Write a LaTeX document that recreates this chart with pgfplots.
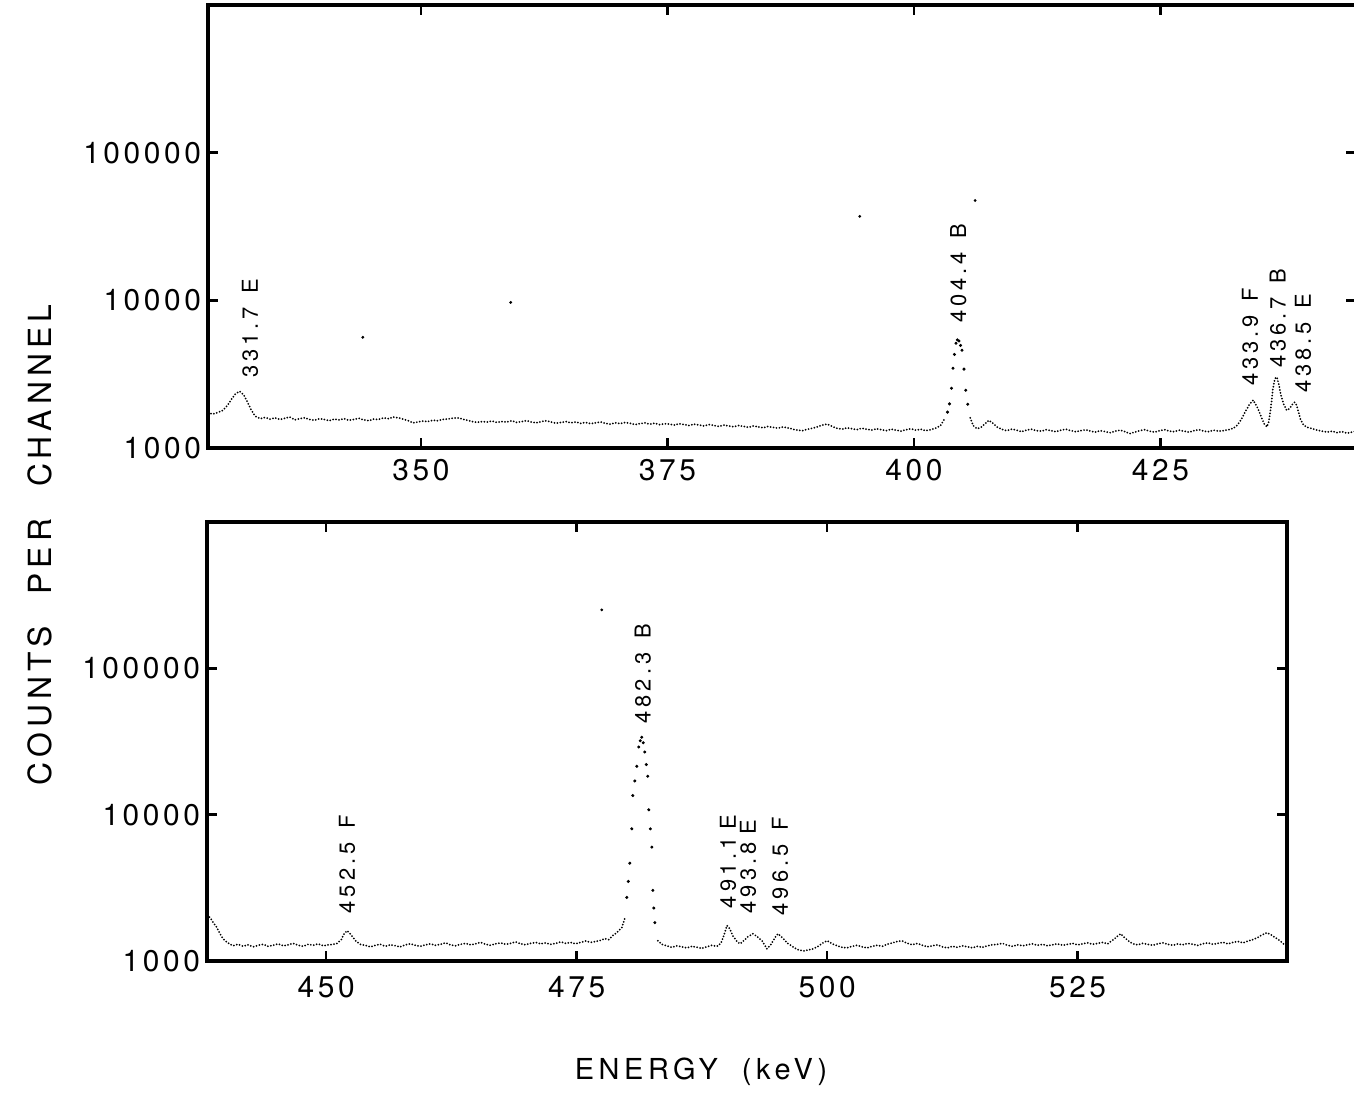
\documentclass[border=0pt]{standalone}
\usepackage{fontspec}
\setmainfont{TeX Gyre Heros}
\newfontfamily\tickfont[LetterSpace=12]{TeX Gyre Heros}
\newfontfamily\labfont[LetterSpace=16]{TeX Gyre Heros}
\newfontfamily\pkfont[LetterSpace=18]{TeX Gyre Heros}
\usepackage{pgfplots}
\pgfplotsset{compat=1.18}
\tikzset{pk/.style={rotate=90, anchor=west, inner sep=0pt, font=\pkfont\fontsize{11}{12}\selectfont}}
\begin{document}
\begin{tikzpicture}
\useasboundingbox (0,0) rectangle (677bp,546.5bp);
% top panel
\begin{axis}[scale only axis, anchor=south west,
  ymode=log, ymin=1000, ymax=1000000,
  ytick={1000,10000,100000}, yticklabels={1000,10000,100000},
  yminorticks=false, xminorticks=false,
  tick align=inside, major tick length=5bp,
  tick style={black, line width=1.2bp},
  axis line style={line width=2bp},
  tick label style={font=\tickfont\fontsize{15}{17}\selectfont},
  clip=false, unbounded coords=jump,
  at={(104bp,322.5bp)}, width=574bp, height=221.5bp,
  xmin=328.4, xmax=444.83, xtick={350,375,400,425}, xticklabels={350,375,400,425},
  xticklabel style={yshift=-2bp}]
\addplot[black, line width=1pt, line cap=round, dash pattern=on 0pt off 1.5pt] coordinates {
(328.4,1720)(328.9,1700)(329.4,1740)(329.9,1800)(330.4,1950)(330.8,2150)(331.2,2330)(331.6,2420)(332.0,2300)(332.4,2050)(332.8,1800)(333.2,1640)(333.7,1580)(334.2,1610)(334.7,1570)(335.2,1600)(335.7,1560)(336.2,1590)(336.7,1620)(337.2,1550)(337.7,1580)(338.2,1600)(338.7,1560)(339.2,1540)(339.7,1580)(340.2,1560)(340.7,1530)(341.2,1570)(341.7,1550)(342.2,1580)(342.7,1540)(343.2,1560)(343.7,1590)(344.2,1550)(344.7,1530)(345.2,1570)(345.7,1560)(346.2,1600)(346.7,1580)(347.2,1620)(347.7,1600)(348.2,1570)(348.7,1530)(349.2,1480)(349.7,1500)
(350.2,1520)(350.7,1510)(351.2,1540)(351.7,1530)(352.2,1560)(352.7,1570)(353.2,1590)(353.7,1600)(354.2,1570)(354.7,1540)(355.2,1510)(355.7,1490)(356.2,1510)(356.7,1500)(357.2,1520)(357.7,1490)(358.2,1510)(358.7,1500)(359.2,1530)(359.7,1490)(360.2,1510)(360.7,1530)(361.2,1500)(361.7,1480)(362.2,1510)(362.7,1530)(363.2,1500)(363.7,1470)(364.2,1490)(364.7,1510)(365.2,1480)(365.7,1500)(366.2,1470)(366.7,1490)(367.2,1460)(367.7,1480)(368.2,1500)(368.7,1470)(369.2,1450)(369.7,1480)(370.2,1460)(370.7,1490)(371.2,1470)(371.7,1440)(372.2,1460)(372.7,1480)(373.2,1450)(373.7,1470)(374.2,1440)(374.7,1460)
(375.2,1450)(375.7,1430)(376.2,1460)(376.7,1440)(377.2,1420)(377.7,1450)(378.2,1430)(378.7,1410)(379.2,1440)(379.7,1420)(380.2,1400)(380.7,1430)(381.2,1410)(381.7,1390)(382.2,1420)(382.7,1400)(383.2,1380)(383.7,1410)(384.2,1390)(384.7,1370)(385.2,1400)(385.7,1380)(386.2,1360)(386.7,1390)(387.2,1370)(387.7,1340)(388.2,1320)(388.7,1310)(389.2,1340)(389.7,1360)(390.2,1390)(390.7,1430)(391.2,1450)(391.7,1400)(392.2,1360)(392.7,1340)(393.2,1370)(393.7,1350)(394.2,1330)(394.7,1360)(395.2,1340)(395.7,1320)(396.2,1350)(396.7,1330)(397.2,1310)(397.7,1340)(398.2,1320)(398.7,1300)(399.2,1330)(399.7,1350)
(400.2,1320)(400.7,1340)(401.2,1310)(401.7,1330)(402.2,1360)(402.7,1420)(403.1,1580)(403.3,nan)(405.7,1600)(406.0,1420)(406.4,1350)(406.8,1380)(407.2,1460)(407.6,1540)(408.0,1470)(408.4,1390)(408.9,1340)(409.4,1310)(409.9,1340)(410.4,1320)(410.9,1290)(411.4,1320)(411.9,1340)(412.4,1310)(412.9,1300)(413.4,1330)(413.9,1310)(414.4,1290)(414.9,1320)(415.4,1340)(415.9,1310)(416.4,1290)(416.9,1310)(417.4,1330)(417.9,1300)(418.4,1280)(418.9,1310)(419.4,1290)(419.9,1270)(420.4,1300)(420.9,1320)(421.4,1290)(421.9,1250)(422.4,1280)(422.9,1310)(423.4,1330)(423.9,1300)(424.4,1280)(424.9,1310)
(425.4,1330)(425.9,1300)(426.4,1290)(426.9,1320)(427.4,1300)(427.9,1280)(428.4,1310)(428.9,1330)(429.4,1300)(429.9,1290)(430.4,1320)(430.9,1300)(431.4,1310)(431.9,1330)(432.4,1360)(432.8,1430)(433.2,1560)(433.6,1760)(434.0,1960)(434.4,2110)(434.8,1900)(435.2,1640)(435.5,1460)(435.8,1390)(436.0,1520)(436.2,1900)(436.4,2500)(436.6,2950)(436.8,3020)(437.0,2700)(437.2,2300)(437.5,1980)(437.8,1800)(438.1,1850)(438.4,1980)(438.6,2040)(438.8,1950)(439.0,1750)(439.2,1560)(439.5,1430)(439.9,1380)(440.4,1350)(440.9,1320)(441.4,1300)(441.9,1280)(442.4,1300)(442.9,1270)(443.4,1290)(443.9,1260)(444.4,1280)(444.8,1300)};
\addplot[only marks, mark=*, mark size=0.55pt, black] coordinates {
(403.4,1750)(403.6,1990)(403.8,2540)(403.96,3470)(404.1,4300)(404.26,5120)(404.4,5400)(404.56,5300)(404.72,4950)(404.87,4590)(405.07,3420)(405.25,2460)(405.45,1980)};
\addplot[only marks, mark=*, mark size=0.5pt, black] coordinates {(406.2,47400)(394.5,37000)(344.1,5620)(359.1,9680)};
\node[pk] at (axis cs:332.66,2970) {331.7\hspace{7bp}E};
\node[pk] at (axis cs:404.5,7000) {404.4\hspace{7bp}B};
\node[pk] at (axis cs:434.08,2620) {433.9\hspace{7bp}F};
\node[pk] at (axis cs:436.9,3470) {436.7\hspace{7bp}B};
\node[pk] at (axis cs:439.45,2355) {438.5\hspace{7bp}E};
\end{axis}
% bottom panel
\begin{axis}[scale only axis, anchor=south west,
  ymode=log, ymin=1000, ymax=1000000,
  ytick={1000,10000,100000}, yticklabels={1000,10000,100000},
  yminorticks=false, xminorticks=false,
  tick align=inside, major tick length=5bp,
  tick style={black, line width=1.2bp},
  axis line style={line width=2bp},
  tick label style={font=\tickfont\fontsize{15}{17}\selectfont},
  clip=false, unbounded coords=jump,
  at={(103.5bp,66bp)}, width=540bp, height=219.5bp,
  xmin=438.1, xmax=545.9, xtick={450,475,500,525}, xticklabels={450,475,500,525},
  xticklabel style={yshift=-4bp}]
\addplot[black, line width=1pt, line cap=round, dash pattern=on 0pt off 1.5pt] coordinates {
(438.1,2050)(438.4,1980)(438.8,1800)(439.1,1690)(439.4,1530)(439.7,1420)(440.1,1340)(440.7,1270)(441.2,1300)(441.7,1260)(442.2,1290)(442.7,1250)(443.2,1280)(443.7,1300)(444.2,1260)(444.7,1280)(445.2,1310)(445.7,1270)(446.2,1290)(446.7,1320)(447.2,1280)(447.7,1260)(448.2,1300)(448.7,1280)(449.2,1310)(449.7,1270)(450.2,1290)(450.7,1300)(451.1,1320)(451.5,1400)(451.8,1540)(452.1,1610)(452.4,1530)(452.7,1440)(453.0,1360)(453.4,1300)(453.9,1280)(454.4,1250)(454.9,1280)(455.4,1300)(455.9,1260)(456.4,1290)(456.9,1270)(457.4,1250)(457.9,1290)(458.4,1310)(458.9,1280)(459.4,1260)(459.9,1290)(460.4,1310)(460.9,1280)(461.4,1300)(461.9,1330)(462.4,1290)(462.9,1270)(463.4,1300)(463.9,1320)(464.4,1290)(464.9,1310)(465.4,1340)(465.9,1300)(466.4,1280)(466.9,1310)(467.4,1330)(467.9,1300)(468.4,1320)(468.9,1350)(469.4,1310)(469.9,1290)(470.4,1320)(470.9,1340)(471.4,1310)(471.9,1330)(472.4,1300)(472.9,1320)(473.4,1350)(473.9,1320)(474.4,1340)(474.9,1310)
(475.4,1340)(475.9,1370)(476.4,1340)(476.9,1360)(477.3,1380)(477.8,1420)(478.2,1400)(478.6,1490)(479.0,1560)(479.5,1690)(479.8,1950)(480.0,nan)(483.1,1375)(483.5,1300)(484.0,1270)(484.5,1240)(485.0,1270)(485.5,1250)(486.0,1230)(486.5,1260)(487.0,1240)(487.5,1220)(488.0,1250)(488.5,1280)(489.0,1260)(489.4,1320)(489.7,1500)(490.0,1750)(490.3,1650)(490.6,1480)(491.0,1360)(491.3,1310)(491.7,1380)(492.1,1470)(492.6,1535)(493.0,1470)(493.5,1375)(494.0,1210)(494.4,1300)(494.8,1450)(495.1,1535)(495.5,1450)(496.0,1330)(496.5,1260)(497.0,1200)(497.6,1170)(498.1,1190)(498.6,1210)(499.1,1260)(499.5,1320)
(500.0,1375)(500.5,1310)(501.0,1270)(501.5,1240)(502.0,1230)(502.5,1260)(503.0,1280)(503.5,1250)(504.0,1230)(504.5,1260)(505.0,1280)(505.5,1260)(506.0,1300)(506.5,1330)(507.0,1360)(507.5,1370)(508.0,1320)(508.5,1290)(509.0,1320)(509.5,1280)(510.0,1250)(510.5,1270)(511.0,1290)(511.5,1250)(512.0,1230)(512.5,1260)(513.0,1240)(513.5,1270)(514.0,1250)(514.5,1230)(515.0,1260)(515.5,1240)(516.0,1270)(516.5,1290)(517.0,1300)(517.5,1320)(518.0,1280)(518.5,1260)(519.0,1290)(519.5,1270)(520.0,1290)(520.5,1310)(521.0,1280)(521.5,1300)(522.0,1270)(522.5,1290)(523.0,1310)(523.5,1280)(524.0,1300)(524.5,1320)
(525.0,1290)(525.5,1310)(526.0,1330)(526.5,1300)(527.0,1320)(527.5,1340)(528.0,1310)(528.5,1390)(529.0,1480)(529.3,1535)(529.7,1440)(530.1,1370)(530.5,1310)(531.0,1290)(531.5,1320)(532.0,1300)(532.5,1280)(533.0,1310)(533.5,1330)(534.0,1300)(534.5,1280)(535.0,1310)(535.5,1290)(536.0,1320)(536.5,1300)(537.0,1280)(537.5,1310)(538.0,1330)(538.5,1300)(539.0,1320)(539.5,1340)(540.0,1310)(540.5,1340)(541.0,1360)(541.5,1330)(542.0,1370)(542.5,1400)(543.0,1450)(543.5,1520)(543.9,1560)(544.3,1510)(544.7,1450)(545.2,1375)(545.6,1300)(545.9,1290)};
\addplot[only marks, mark=*, mark size=0.55pt, black] coordinates {
(480.0,2720)(480.15,3500)(480.3,4660)(480.5,8000)(480.6,13500)(480.8,17000)(481.0,21400)(481.2,29000)(481.35,32000)(481.5,33800)(481.65,31000)(481.8,26800)(481.95,22000)(482.1,18300)(482.2,10800)(482.35,8000)(482.5,6000)(482.6,3040)(482.7,2300)(482.8,1830)};
\addplot[only marks, mark=*, mark size=0.5pt, black] coordinates {(477.5,251000)};
\node[pk] at (axis cs:452.07,2110) {452.5\hspace{7bp}F};
\node[pk] at (axis cs:481.6,41800) {482.3\hspace{7bp}B};
\node[pk] at (axis cs:490.1,2285) {491.1\hspace{4bp}E};
\node[pk] at (axis cs:492.1,2110) {493.8\hspace{4bp}E};
\node[pk] at (axis cs:495.3,2045) {496.5\hspace{7bp}F};
\end{axis}
\node[rotate=90, font=\labfont\fontsize{16}{18}\selectfont] at (20bp,274bp) {COUNTS\hspace{16bp}PER\hspace{16bp}CHANNEL};
\node[font=\labfont\fontsize{14.5}{16}\selectfont] at (350.5bp,10.5bp) {ENERGY\hspace{12bp}(keV)};
\end{tikzpicture}
\end{document}
